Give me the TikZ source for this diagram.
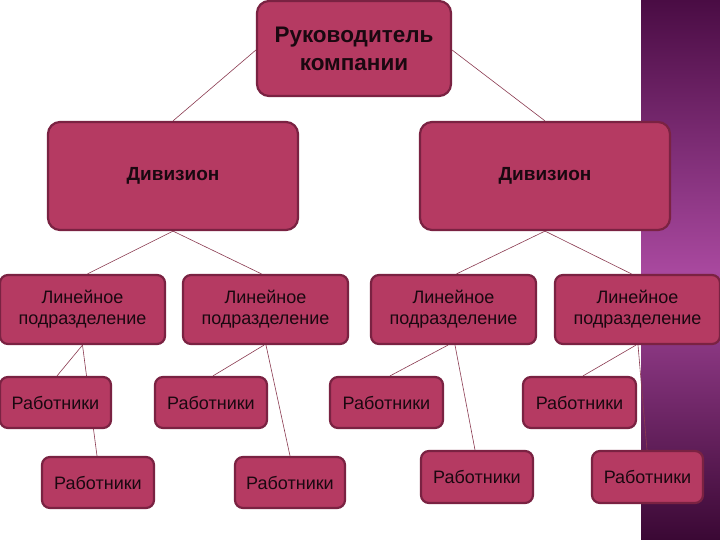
\documentclass[tikz,border=0pt]{standalone}
\usepackage{fontspec}
\setmainfont{Liberation Sans}
\usetikzlibrary{calc,backgrounds}
\definecolor{boxfill}{HTML}{B53A62}
\definecolor{boxedge}{HTML}{7A2242}
\definecolor{linkcol}{HTML}{8A3A50}
\definecolor{txt}{HTML}{1A0810}
\definecolor{pdark}{HTML}{4A0C44}
\definecolor{pmid}{HTML}{A8489E}
\definecolor{pbot}{HTML}{3A0834}
\tikzset{
  orgbox/.style={draw=boxedge, line width=2.2pt, fill=boxfill, text=txt,
    rounded corners=12pt, inner sep=0pt, align=center},
  smallbox/.style={orgbox, rounded corners=8pt, font=\fontsize{18}{21}\selectfont},
  link/.style={draw=linkcol, line width=0.6pt}
}
\begin{document}
\begin{tikzpicture}[x=1pt,y=-1pt]
\useasboundingbox (0,0) rectangle (720,540);
\begin{scope}[on background layer]
\fill[white] (0,0) rectangle (720,540);
\shade[top color=pdark, bottom color=pbot, middle color=pmid] (641,0) rectangle (720,540);
\end{scope}

% nodes
\node[orgbox, minimum width=194pt, minimum height=95pt, font=\bfseries\fontsize{22.5}{28}\selectfont] (top) at (354,48.5) {Руководитель\\компании};
\node[orgbox, minimum width=250pt, minimum height=108pt, font=\bfseries\fontsize{19}{22}\selectfont] (divL) at (173,176) {Дивизион};
\node[orgbox, minimum width=250pt, minimum height=108pt, font=\bfseries\fontsize{19}{22}\selectfont] (divR) at (545,176) {Дивизион};

\node[smallbox, minimum width=165pt, minimum height=69pt] (ld1) at (82.5,309.5) {Линейное\\подразделение};
\node[smallbox, minimum width=165pt, minimum height=69pt] (ld2) at (265.5,309.5) {Линейное\\подразделение};
\node[smallbox, minimum width=165pt, minimum height=69pt] (ld3) at (453.5,309.5) {Линейное\\подразделение};
\node[smallbox, minimum width=165pt, minimum height=69pt] (ld4) at (637.5,309.5) {Линейное\\подразделение};

\node[smallbox, minimum width=111pt, minimum height=51pt] (w1) at (55.5,402.5) {Работники};
\node[smallbox, minimum width=112pt, minimum height=51pt] (w2) at (211,402.5) {Работники};
\node[smallbox, minimum width=113pt, minimum height=51pt] (w3) at (386.5,402.5) {Работники};
\node[smallbox, minimum width=113pt, minimum height=51pt] (w4) at (579.5,402.5) {Работники};

\node[smallbox, minimum width=112pt, minimum height=51pt] (w5) at (98,482.5) {Работники};
\node[smallbox, minimum width=110pt, minimum height=51pt] (w6) at (290,482.5) {Работники};
\node[smallbox, minimum width=112pt, minimum height=52pt] (w7) at (477,477) {Работники};
\node[smallbox, minimum width=111pt, minimum height=52pt] (w8) at (647.5,477) {Работники};

% connectors (behind boxes)
\begin{scope}[on background layer]
\draw[link] ($(top.west)+(0,1.5)$) -- (divL.north);
\draw[link] ($(top.east)+(0,1.5)$) -- (divR.north);
\draw[link] (divL.south) -- ($(ld1.north)+(5,0)$);
\draw[link] (divL.south) -- ($(ld2.north)+(-4,0)$);
\draw[link] (divR.south) -- ($(ld3.north)+(3,0)$);
\draw[link] (divR.south) -- ($(ld4.north)+(-6,0)$);
\draw[link] (ld1.south) -- ($(w1.north)+(1.5,0)$);
\draw[link] (ld1.south) -- ($(w5.north)+(-1,0)$);
\draw[link] ($(ld2.south)+(-1.5,0)$) -- ($(w2.north)+(2,0)$);
\draw[link] ($(ld2.south)+(0.5,0)$) -- (w6.north);
\draw[link] ($(ld3.south)+(-5.5,0)$) -- ($(w3.north)+(3.5,0)$);
\draw[link] ($(ld3.south)+(1.5,0)$) -- ($(w7.north)+(-2,0)$);
\draw[link] ($(ld4.south)+(-1.5,0)$) -- ($(w4.north)+(3.5,0)$);
\draw[link] ($(ld4.south)+(0.5,0)$) -- ($(w8.north)+(-0.5,0)$);
\end{scope}
\end{tikzpicture}
\end{document}
